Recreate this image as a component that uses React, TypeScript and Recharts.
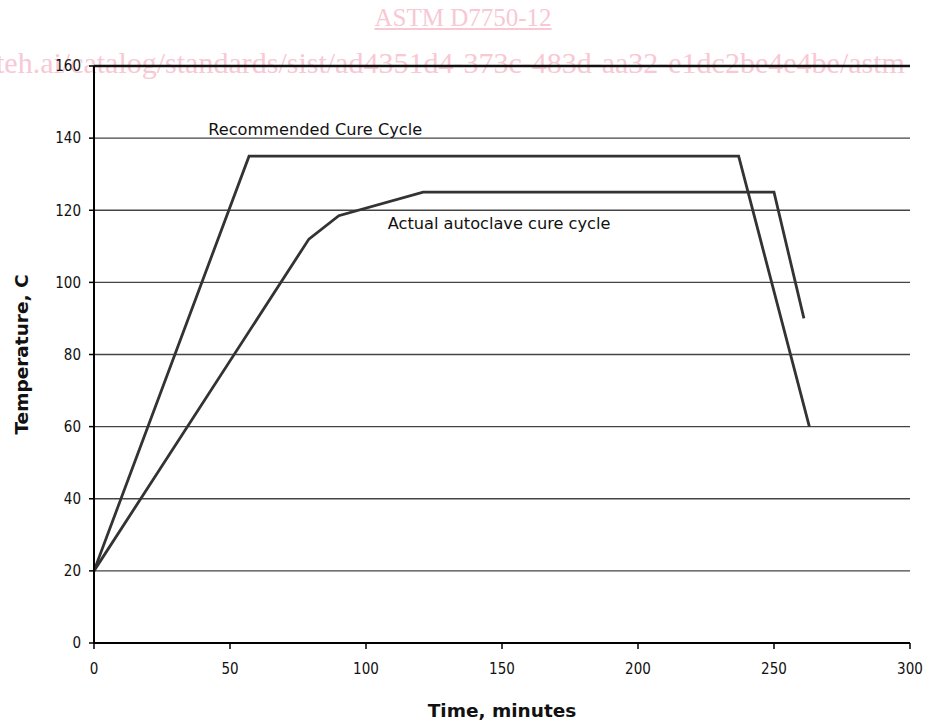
import React from "react";
import {
  LineChart,
  Line,
  XAxis,
  YAxis,
  CartesianGrid,
  ReferenceLine,
  ReferenceDot,
  Label,
} from "recharts";

// Recommended cure cycle (time in minutes, temperature in C)
const recommendedTime = [0, 57, 237, 263];
const recommendedTemp = [20, 135, 135, 60];

// Actual autoclave cure cycle
const actualTime = [0, 79, 90, 121, 250, 261];
const actualTemp = [20, 112, 118.5, 125, 125, 90];

const xTicks = [0, 50, 100, 150, 200, 250, 300];
const yTicks = [0, 20, 40, 60, 80, 100, 120, 140, 160];

const recommended = recommendedTime.map((t, i) => ({ t, temp: recommendedTemp[i] }));
const actual = actualTime.map((t, i) => ({ t, temp: actualTemp[i] }));

const tickFont = { fontSize: 15, fill: "#111", fontFamily: "'DejaVu Sans Condensed', 'Liberation Sans Narrow', sans-serif" };
const labelFont = "'DejaVu Sans', Verdana, sans-serif";
const pink = "#f8c8d4";

export default function App() {
  return (
    <div style={{ position: "absolute", left: 0, top: 0, width: 926, height: 720, background: "#fff", overflow: "hidden" }}>
      <div
        style={{
          position: "absolute",
          left: 0,
          width: 926,
          top: 4,
          textAlign: "center",
          fontFamily: "'Liberation Serif', serif",
          fontSize: 25,
          color: pink,
          textDecoration: "underline",
        }}
      >
        ASTM D7750-12
      </div>
      <div
        style={{
          position: "absolute",
          left: -4,
          top: 46,
          whiteSpace: "nowrap",
          fontFamily: "'Liberation Serif', serif",
          fontSize: 30,
          color: pink,
        }}
      >
        teh.ai/catalog/standards/sist/ad4351d4-373c-483d-aa32-e1dc2be4e4be/astm
      </div>
      <div style={{ position: "absolute", left: 0, top: 0 }}>
        <LineChart width={926} height={720} margin={{ top: 66, right: 16, bottom: 30, left: 34 }}>
          <CartesianGrid vertical={false} stroke="#444" strokeWidth={1.3} />
          <XAxis
            type="number"
            dataKey="t"
            domain={[0, 300]}
            ticks={xTicks}
            allowDuplicatedCategory={false}
            height={47}
            tick={tickFont}
            tickSize={6}
            tickMargin={14}
            axisLine={{ stroke: "#000", strokeWidth: 2 }}
            tickLine={{ stroke: "#000", strokeWidth: 1.5 }}
          >
            <Label
              value="Time, minutes"
              position="insideBottom"
              offset={-27}
              style={{ fontFamily: labelFont, fontWeight: "bold", fontSize: 18.5, fill: "#111" }}
            />
          </XAxis>
          <YAxis
            type="number"
            dataKey="temp"
            domain={[0, 160]}
            ticks={yTicks}
            width={60}
            tick={tickFont}
            tickSize={5}
            tickMargin={8}
            axisLine={{ stroke: "#000", strokeWidth: 2 }}
            tickLine={{ stroke: "#000", strokeWidth: 1.5 }}
          >
            <Label
              value="Temperature, C"
              angle={-90}
              position="insideLeft"
              offset={-13}
              style={{ textAnchor: "middle", fontFamily: labelFont, fontWeight: "bold", fontSize: 18.5, fill: "#111" }}
            />
          </YAxis>
          <ReferenceLine y={160} stroke="#111" strokeWidth={2.5} />
          <Line
            data={recommended}
            dataKey="temp"
            type="linear"
            stroke="#333"
            strokeWidth={2.8}
            dot={false}
            isAnimationActive={false}
          />
          <Line
            data={actual}
            dataKey="temp"
            type="linear"
            stroke="#333"
            strokeWidth={2.8}
            dot={false}
            isAnimationActive={false}
          />
          <ReferenceDot x={42} y={142.5} r={0} stroke="none" fill="none">
            <Label
              value="Recommended Cure Cycle"
              position="right"
              offset={0}
              style={{ fontFamily: labelFont, fontSize: 16.2, fill: "#111" }}
            />
          </ReferenceDot>
          <ReferenceDot x={108} y={116.5} r={0} stroke="none" fill="none">
            <Label
              value="Actual autoclave cure cycle"
              position="right"
              offset={0}
              style={{ fontFamily: labelFont, fontSize: 16.2, fill: "#111" }}
            />
          </ReferenceDot>
        </LineChart>
      </div>
    </div>
  );
}
